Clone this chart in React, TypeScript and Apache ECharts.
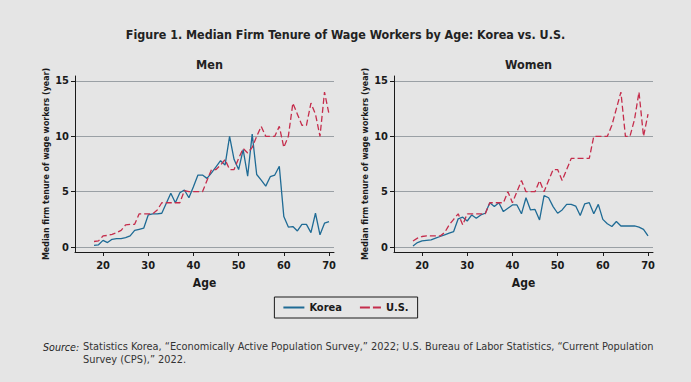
import React, { useEffect, useRef } from 'react';
import * as echarts from 'echarts';

const ages = [18, 19, 20, 21, 22, 23, 24, 25, 26, 27, 28, 29, 30, 31, 32, 33, 34, 35, 36, 37, 38, 39, 40, 41, 42, 43, 44, 45, 46, 47, 48, 49, 50, 51, 52, 53, 54, 55, 56, 57, 58, 59, 60, 61, 62, 63, 64, 65, 66, 67, 68, 69, 70];

const koreaMen = [0.15, 0.2, 0.6, 0.4, 0.7, 0.75, 0.75, 0.85, 1.0, 1.5, 1.6, 1.7, 2.9, 3.0, 3.0, 3.05, 3.95, 4.85, 4.0, 4.9, 5.15, 4.45, 5.45, 6.5, 6.5, 6.2, 6.7, 7.25, 7.8, 7.4, 10.0, 7.9, 7.0, 8.8, 6.4, 10.2, 6.55, 6.05, 5.5, 6.35, 6.5, 7.3, 2.75, 1.8, 1.85, 1.45, 2.05, 2.05, 1.3, 3.05, 1.1, 2.15, 2.3];
const usMen = [0.5, 0.55, 1.0, 1.05, 1.15, 1.3, 1.5, 2.0, 2.05, 2.05, 3.0, 3.0, 3.0, 3.0, 3.35, 4.0, 4.0, 4.0, 4.0, 4.0, 5.1, 5.0, 5.0, 5.0, 5.0, 6.0, 7.0, 7.0, 7.4, 7.9, 7.0, 7.0, 8.0, 8.9, 8.5, 9.0, 10.0, 10.9, 10.0, 10.0, 10.0, 10.9, 9.0, 10.0, 13.0, 12.0, 11.0, 11.0, 13.0, 12.0, 10.0, 14.0, 12.0];
const koreaWomen = [0.1, 0.4, 0.55, 0.6, 0.65, 0.8, 0.95, 1.1, 1.25, 1.4, 2.55, 2.7, 2.35, 2.9, 2.6, 2.9, 3.05, 4.0, 3.65, 4.0, 3.2, 3.5, 3.8, 3.8, 3.0, 4.45, 3.35, 3.4, 2.45, 4.65, 4.45, 3.65, 3.05, 3.35, 3.85, 3.85, 3.7, 2.85, 3.9, 4.0, 3.0, 3.85, 2.5, 2.1, 1.85, 2.3, 1.9, 1.9, 1.9, 1.9, 1.8, 1.6, 1.0];
const usWomen = [0.55, 0.8, 0.95, 1.0, 1.0, 1.0, 1.0, 1.3, 2.0, 2.5, 3.0, 2.0, 3.0, 3.0, 3.0, 3.0, 3.0, 4.0, 4.0, 4.0, 4.0, 5.0, 4.0, 5.0, 6.0, 5.0, 5.0, 5.0, 6.0, 5.0, 6.0, 7.0, 7.0, 6.0, 7.0, 8.0, 8.0, 8.0, 8.0, 8.0, 10.0, 10.0, 10.0, 10.0, 11.0, 12.5, 14.0, 10.0, 10.0, 11.5, 14.0, 10.0, 12.0];

const xTicks = [20, 30, 40, 50, 60, 70];
const yTicks = [0, 5, 10, 15];
const panelTitles = ['Men', 'Women'];
const seriesNames = ['Korea', 'U.S.'];

const NARROW = "'Liberation Sans Narrow', 'Arial Narrow', 'DejaVu Sans Condensed', sans-serif";
const INK = '#1a1a1a';
const KOREA = '#1f6b95';
const US = '#c52d4c';

export default function App() {
  const ref = useRef<HTMLDivElement>(null);
  useEffect(() => {
    const chart = echarts.init(ref.current!, null, { renderer: 'svg' });
    const pairs = (vals: number[]) => ages.map((a, i) => [a, vals[i]]);
    const grids = [
      { left: 75, top: 76, width: 259, height: 176 },
      { left: 394, top: 76, width: 259, height: 176 },
    ];
    const xAxis = grids.map((_, i) => ({
      type: 'value', gridIndex: i, min: 13.8, max: 71.1,
      axisLine: { show: true, onZero: false, lineStyle: { color: INK, width: 1 } },
      axisTick: { show: true, length: 4, customValues: xTicks, lineStyle: { color: INK } },
      axisLabel: { customValues: xTicks, margin: 8, fontSize: 11, fontWeight: 'bold', color: INK, fontFamily: NARROW },
      splitLine: { show: false },
      name: 'Age', nameLocation: 'middle', nameGap: 25,
      nameTextStyle: { fontSize: 12, fontWeight: 'bold', color: INK, fontFamily: NARROW },
    }));
    const yAxis = grids.map((_, i) => ({
      type: 'value', gridIndex: i, min: -0.45, max: 15.45,
      axisLine: { show: true, onZero: false, lineStyle: { color: INK, width: 1 } },
      axisTick: { show: true, length: 4, customValues: yTicks, lineStyle: { color: INK } },
      axisLabel: { customValues: yTicks, margin: 6, fontSize: 11, fontWeight: 'bold', color: INK, fontFamily: NARROW },
      splitLine: { show: true, lineStyle: { color: '#9aa0a5', width: 1 } },
      name: 'Median firm tenure of wage workers (year)', nameLocation: 'middle', nameGap: 25, nameRotate: 90,
      nameTextStyle: { fontSize: 8.8, fontWeight: 'bold', color: INK, fontFamily: NARROW },
    }));
    const data = [[koreaMen, usMen], [koreaWomen, usWomen]];
    const series: any[] = [];
    data.forEach((panel, gi) => {
      panel.forEach((vals, si) => {
        const color = si === 0 ? KOREA : US;
        series.push({
          type: 'line', name: seriesNames[si], xAxisIndex: gi, yAxisIndex: gi,
          data: pairs(vals), symbol: 'none', silent: true,
          lineStyle: { color, width: 1.3, type: si === 0 ? 'solid' : [6, 3] },
          itemStyle: { color },
        });
      });
    });
    chart.setOption({
      animation: false,
      backgroundColor: '#e5e5e5',
      title: [
        { text: 'Figure 1. Median Firm Tenure of Wage Workers by Age: Korea vs. U.S.', left: 'center', top: 23,
          textStyle: { fontSize: 12.4, fontWeight: 'bold', color: '#222', fontFamily: NARROW } },
        ...panelTitles.map((t, i) => ({
          text: t, left: grids[i].left + grids[i].width / 2, textAlign: 'center', top: 53,
          textStyle: { fontSize: 12.5, fontWeight: 'bold', color: '#222', fontFamily: NARROW },
        })),
      ],
      grid: grids,
      xAxis, yAxis, series,
      legend: {
        left: 'center', top: 297,
        data: [
          { name: seriesNames[0] },
          { name: seriesNames[1], lineStyle: { type: [10, 3] } },
        ],
        borderColor: INK, borderWidth: 1, padding: [5, 9, 5, 8], itemGap: 17, itemWidth: 21, itemHeight: 10,
        itemStyle: { color: 'transparent', borderColor: 'transparent', borderWidth: 0 },
        lineStyle: { width: 2 },
        textStyle: { fontWeight: 'bold', fontSize: 11, fontFamily: NARROW, color: INK },
      },
      graphic: [
        { type: 'text', left: 43, top: 341, style: { text: 'Source:', fontStyle: 'italic', fontSize: 10.6, fill: '#222', fontFamily: NARROW } },
        { type: 'text', left: 83, top: 341, style: { text: 'Statistics Korea, \u201cEconomically Active Population Survey,\u201d 2022; U.S. Bureau of Labor Statistics, \u201cCurrent Population', fontSize: 10.9, fill: '#333', fontFamily: NARROW } },
        { type: 'text', left: 83, top: 354, style: { text: 'Survey (CPS),\u201d 2022.', fontSize: 10.9, fill: '#333', fontFamily: NARROW } },
      ],
    });
    return () => chart.dispose();
  }, []);
  return <div ref={ref} style={{ position: 'absolute', left: 0, top: 0, width: 691, height: 382 }} />;
}
